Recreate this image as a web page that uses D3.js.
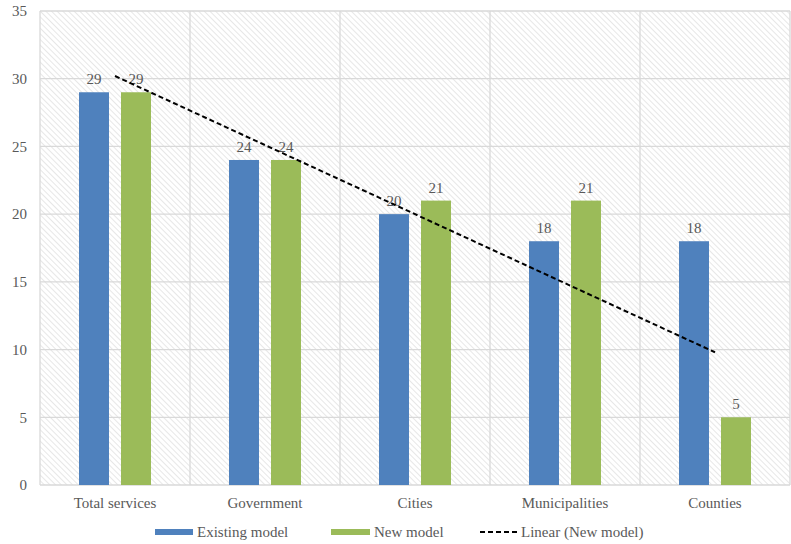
<!DOCTYPE html>
<html>
<head>
<meta charset="utf-8">
<script src="https://cdn.jsdelivr.net/npm/d3@7"></script>
<style>
  html, body { margin:0; padding:0; background:#fff; }
  svg text { fill:#595959; font-family: "Liberation Serif", "DejaVu Serif", serif; }
</style>
</head>
<body>
<svg id="chart" width="791" height="544"></svg>
<script>
const categories = ["Total services", "Government", "Cities", "Municipalities", "Counties"];
const existingModel = [29, 24, 20, 18, 18];
const newModel = [29, 24, 21, 21, 5];
const yTicks = [0, 5, 10, 15, 20, 25, 30, 35];
const seriesNames = ["Existing model", "New model"];
const colors = ["#4F81BD", "#9BBB59"];

const svg = d3.select("#chart");
const plotL = 40, plotR = 790, plotT = 11, plotB = 485;

// hatched plot background
const defs = svg.append("defs");
const pat = defs.append("pattern")
  .attr("id", "hatch")
  .attr("patternUnits", "userSpaceOnUse")
  .attr("width", 4).attr("height", 4)
  .attr("patternTransform", "rotate(-45)");
pat.append("line")
  .attr("x1", 0).attr("y1", 0).attr("x2", 0).attr("y2", 4)
  .attr("stroke", "#cfcfcf").attr("stroke-width", 1);

svg.append("rect")
  .attr("x", plotL).attr("y", plotT)
  .attr("width", plotR - plotL).attr("height", plotB - plotT)
  .attr("fill", "url(#hatch)");

const x = d3.scaleBand().domain(categories).range([plotL, plotR]);
const y = d3.scaleLinear().domain([0, 35]).range([plotB, plotT]);

// gridlines
svg.append("g").selectAll("line").data(yTicks).join("line")
  .attr("x1", plotL).attr("x2", plotR)
  .attr("y1", d => y(d)).attr("y2", d => y(d))
  .attr("stroke", "#d9d9d9").attr("stroke-width", 1.3);

const vEdges = categories.map(c => x(c)).concat([plotR]);
svg.append("g").selectAll("line").data(vEdges).join("line")
  .attr("x1", d => d).attr("x2", d => d)
  .attr("y1", plotT).attr("y2", plotB)
  .attr("stroke", "#d9d9d9").attr("stroke-width", 1.3);

// y tick labels
svg.append("g").selectAll("text").data(yTicks).join("text")
  .attr("x", 27).attr("y", d => y(d))
  .attr("dy", "0.35em")
  .attr("text-anchor", "end")
  .style("font-size", "15px")
  .text(d => d);

// x labels
svg.append("g").selectAll("text").data(categories).join("text")
  .attr("x", d => x(d) + x.bandwidth() / 2)
  .attr("y", 508)
  .attr("text-anchor", "middle")
  .style("font-size", "15px")
  .text(d => d);

// bars
const barW = 30, gap = 12;
const offsets = [-(gap / 2 + barW / 2), gap / 2 + barW / 2];
[existingModel, newModel].forEach((vals, s) => {
  const g = svg.append("g");
  g.selectAll("rect").data(vals).join("rect")
    .attr("x", (d, i) => x(categories[i]) + x.bandwidth() / 2 + offsets[s] - barW / 2)
    .attr("y", d => y(d))
    .attr("width", barW)
    .attr("height", d => y(0) - y(d))
    .attr("fill", colors[s]);
  g.selectAll("text").data(vals).join("text")
    .attr("x", (d, i) => x(categories[i]) + x.bandwidth() / 2 + offsets[s])
    .attr("y", d => y(d) - 8)
    .attr("text-anchor", "middle")
    .style("font-size", "15px")
    .text(d => d);
});

// linear trend of new model
const n = newModel.length;
const xs = d3.range(1, n + 1);
const mx = d3.mean(xs), my = d3.mean(newModel);
const slope = d3.sum(xs, (v, i) => (v - mx) * (newModel[i] - my)) / d3.sum(xs, v => (v - mx) ** 2);
const icpt = my - slope * mx;
svg.append("line")
  .attr("x1", x(categories[0]) + x.bandwidth() / 2)
  .attr("y1", y(icpt + slope * 1))
  .attr("x2", x(categories[n - 1]) + x.bandwidth() / 2)
  .attr("y2", y(icpt + slope * n))
  .attr("stroke", "#000").attr("stroke-width", 2)
  .attr("stroke-dasharray", "5,3");

// legend
const ly = 532;
const legend = svg.append("g");
legend.append("rect").attr("x", 155).attr("y", ly - 3).attr("width", 38).attr("height", 6).attr("fill", colors[0]);
legend.append("text").attr("x", 197).attr("y", ly).attr("dy", "0.35em").style("font-size", "15px").text(seriesNames[0]);
legend.append("rect").attr("x", 331).attr("y", ly - 3).attr("width", 39).attr("height", 6).attr("fill", colors[1]);
legend.append("text").attr("x", 374).attr("y", ly).attr("dy", "0.35em").style("font-size", "15px").text(seriesNames[1]);
legend.append("line").attr("x1", 480).attr("x2", 517).attr("y1", ly).attr("y2", ly)
  .attr("stroke", "#000").attr("stroke-width", 2).attr("stroke-dasharray", "5,3");
legend.append("text").attr("x", 521).attr("y", ly).attr("dy", "0.35em").style("font-size", "15px").text("Linear (New model)");
</script>
</body>
</html>
